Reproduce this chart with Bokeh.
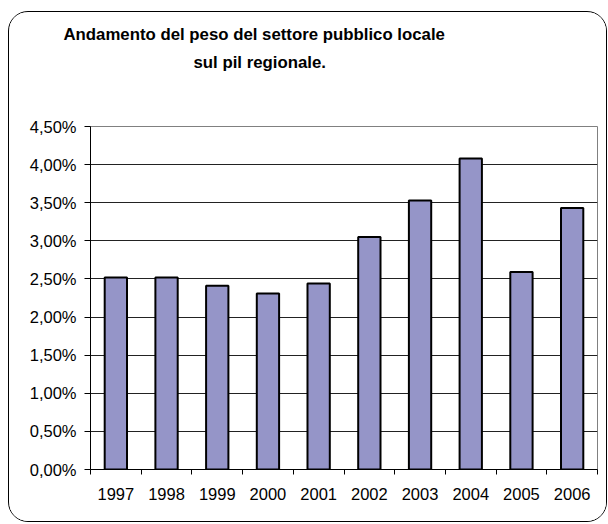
from bokeh.plotting import figure
from bokeh.models import (Range1d, FixedTicker, CustomJSTickFormatter, Title,
                          ColumnDataSource)
from bokeh.embed import file_html
from bokeh.resources import INLINE

# ---- data ----
years = ["1997", "1998", "1999", "2000", "2001", "2002", "2003", "2004", "2005", "2006"]
share = [0.0252, 0.0252, 0.0241, 0.0231, 0.0244, 0.0305, 0.0353, 0.0408, 0.0259, 0.0343]
y_ticks = [0.0, 0.005, 0.01, 0.015, 0.02, 0.025, 0.03, 0.035, 0.04, 0.045]
title_lines = ["Andamento del peso del settore pubblico locale", "sul pil regionale."]

FONT = "Liberation Sans"
W, H = 599, 511

xs = list(range(1, len(years) + 1))
src = ColumnDataSource(dict(x=xs, top=share, year=years))

p = figure(width=W, height=H, output_backend="svg", toolbar_location=None,
           x_range=Range1d(0.5, len(years) + 0.5), y_range=Range1d(0, 0.045),
           min_border_left=81, min_border_right=11, min_border_top=114,
           min_border_bottom=54)
p.title = None
p.margin = (11, 0, 0, 8)
p.styles = {"border": "1px solid black", "border-radius": "20px",
            "box-sizing": "border-box", "overflow": "hidden"}
p.background_fill_color = "white"
p.border_fill_color = "white"
p.outline_line_color = "#808080"
p.outline_line_width = 1

p.vbar(x="x", top="top", width=0.44, bottom=0, source=src,
       fill_color="#9595C8", line_color="black", line_width=2)

# x axis: labels at centers, ticks between categories
p.xaxis.ticker = FixedTicker(ticks=xs, minor_ticks=[x - 0.5 for x in xs] + [len(xs) + 0.5])
p.xaxis.major_label_overrides = {x: y for x, y in zip(xs, years)}
p.xaxis.major_tick_out = 0
p.xaxis.major_tick_in = 0
p.xaxis.minor_tick_out = 5
p.xaxis.minor_tick_in = 0
p.xaxis.minor_tick_line_color = "black"
p.xaxis.axis_line_color = "black"
p.xaxis.major_label_standoff = 13
p.xgrid.visible = False

# y axis
p.yaxis.ticker = FixedTicker(ticks=y_ticks)
p.yaxis.formatter = CustomJSTickFormatter(
    code="return (tick*100).toFixed(2).replace('.', ',') + '%';")
p.yaxis.major_tick_out = 6
p.yaxis.major_tick_in = 0
p.yaxis.minor_tick_line_color = None
p.yaxis.axis_line_color = "black"
p.yaxis.major_tick_line_color = "black"
p.yaxis.major_label_standoff = 8
p.ygrid.grid_line_color = "#222222"
p.ygrid.grid_line_width = 1

for ax in (p.xaxis, p.yaxis):
    ax.major_label_text_font = FONT
    ax.major_label_text_font_size = "16.5px"
    ax.major_label_text_color = "black"

# two-line title, each line as its own Title (left aligned with pixel offsets),
# with an empty spacer panel between the title and the plot area
title_style = dict(text_font=FONT, text_font_size="16.8px", text_font_style="bold",
                   text_color="black", align="left")
p.add_layout(Title(text=" ", standoff=33, **title_style), "above")
p.add_layout(Title(text=title_lines[1], offset=103, standoff=2, **title_style), "above")
p.add_layout(Title(text=title_lines[0], offset=-27, standoff=11, **title_style), "above")

open("out.html", "w").write(file_html(p, INLINE))
